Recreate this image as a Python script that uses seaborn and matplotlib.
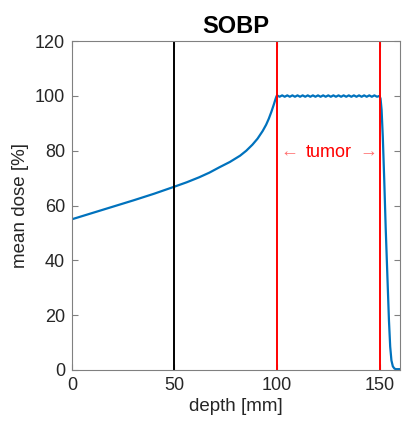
import numpy as np
import pandas as pd
import seaborn as sns
import matplotlib.pyplot as plt

# entrance region
depth_in = [0, 10, 20, 30, 40, 50, 56, 62, 67, 72, 77, 82, 85, 88, 90.5, 93, 94.7, 96, 97.3, 98.5, 99.2, 99.7]
dose_in = [55, 57.3, 59.6, 61.9, 64.3, 66.9, 68.5, 70.3, 72.0, 74.0, 75.9, 78.2, 80.0, 82.2, 84.4, 87.2, 89.5, 91.7, 94.3, 97.0, 98.7, 99.8]

# plateau (ripple)
depth_plat = [100 + 1.25 * i for i in range(41)]
dose_plat = [100.2, 99.7, 100.2, 99.7, 100.2, 99.7, 100.2, 99.7, 100.2, 99.7,
             100.2, 99.7, 100.2, 99.7, 100.2, 99.7, 100.2, 99.7, 100.2, 99.7,
             100.2, 99.7, 100.2, 99.7, 100.2, 99.7, 100.2, 99.7, 100.2, 99.7,
             100.2, 99.7, 100.2, 99.7, 100.2, 99.7, 100.2, 99.7, 100.2, 99.7,
             100.0]

# distal falloff
depth_fall = [150.5, 151, 151.6, 152.3, 153, 153.9, 154.6, 155.2, 155.8, 156.5, 157.3, 158, 160]
dose_fall = [99.0, 95.0, 85.0, 69.3, 52.0, 32.8, 18.0, 8.5, 3.5, 1.3, 0.5, 0.3, 0.3]

df = pd.DataFrame({"depth": depth_in + depth_plat + depth_fall,
                   "dose": dose_in + dose_plat + dose_fall})

plt.rcParams['font.family'] = ['Liberation Sans', 'DejaVu Sans']
fig = plt.figure(figsize=(4.06, 4.26), dpi=100)
ax = fig.add_axes([0.1773, 0.1315, 0.808, 0.772])

sns.lineplot(data=df, x="depth", y="dose", ax=ax, color="#0072BD", linewidth=1.6)

ax.axvline(50, color="black", linewidth=1.4)
ax.axvline(100, color="red", linewidth=1.4)
ax.axvline(150, color="red", linewidth=1.4)

ax.text(125, 79.5, "tumor", color="red", ha="center", va="center", fontsize=13)
ax.text(106, 79.5, "\u2190", color="#ff7070", ha="center", va="center", fontsize=13)
ax.text(144.5, 79.5, "\u2192", color="#ff7070", ha="center", va="center", fontsize=13)

ax.set_xlim(0, 160)
ax.set_ylim(0, 120)
ax.set_xticks([0, 50, 100, 150])
ax.set_yticks([0, 20, 40, 60, 80, 100, 120])
ax.tick_params(direction="in", top=True, right=True, length=4, width=0.8,
               color="#808080", labelsize=13, labelcolor="#262626", pad=5)
for s in ax.spines.values():
    s.set_color("#808080")
    s.set_linewidth(0.8)

ax.set_xlabel("depth [mm]", fontsize=13.5, color="#262626", labelpad=3)
ax.set_ylabel("mean dose [%]", fontsize=13.5, color="#262626", labelpad=4)
ax.set_title("SOBP", fontsize=17, fontweight="bold", pad=6)

plt.savefig("out.png", dpi=100)
